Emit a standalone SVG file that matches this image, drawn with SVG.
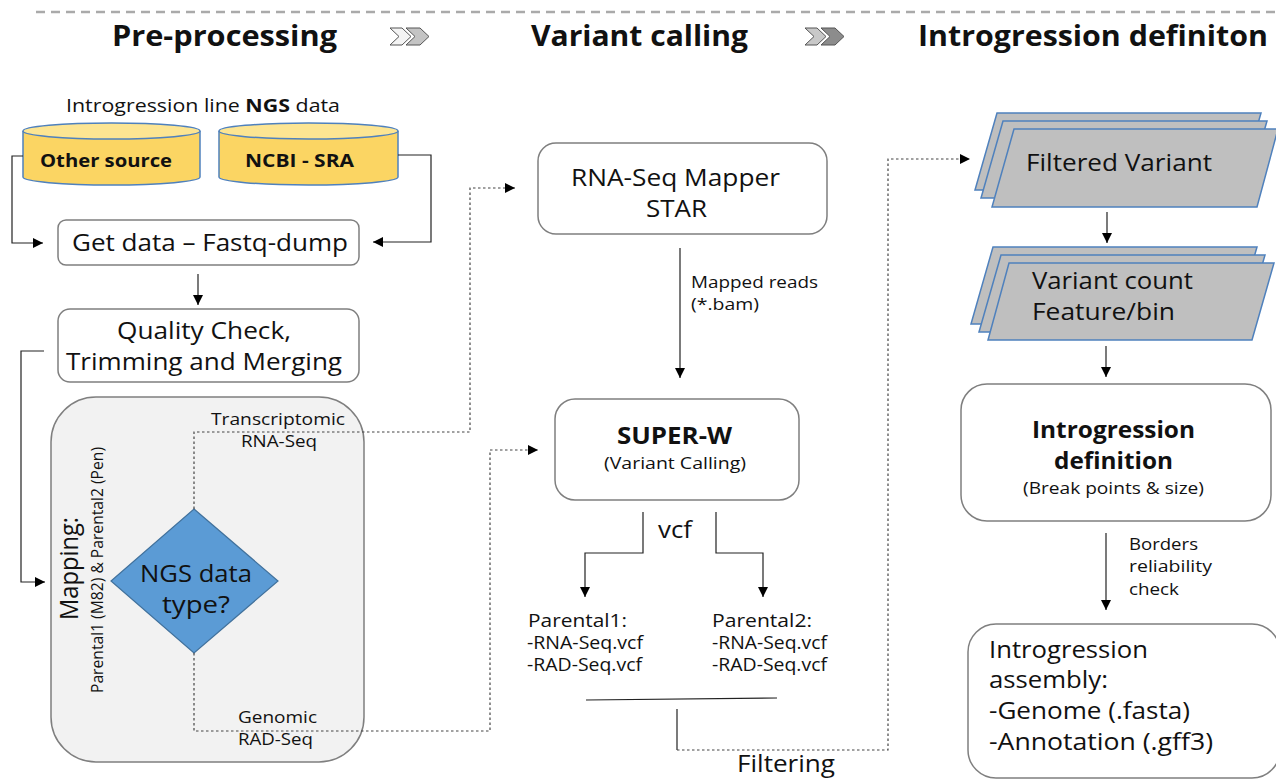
<svg xmlns="http://www.w3.org/2000/svg" width="1276" height="780" viewBox="0 0 1276 780">
  <defs>
    <marker id="arrow" viewBox="0 0 10 10" refX="10" refY="5" markerWidth="10" markerHeight="10" markerUnits="userSpaceOnUse" orient="auto">
      <path d="M0,0 L10,5 L0,10 z" fill="#000"/>
    </marker>
    <style>
      text { font-family: "Open Sans", "Liberation Sans", sans-serif; fill: #111; }
      .title { font-size: 28px; font-weight: bold; }
      .box { fill: #fff; stroke: #7f7f7f; stroke-width: 1.5; }
      .cyl { fill: #fbd563; stroke: #4f81bd; stroke-width: 1.5; }
      .cyltop { fill: #fde592; stroke: #4f81bd; stroke-width: 1.5; }
      .para { fill: #bfbfbf; stroke: #4f81bd; stroke-width: 1.5; }
      .line { fill: none; stroke: #222; stroke-width: 1.2; }
      .dash { fill: none; stroke: #444; stroke-width: 1.2; stroke-dasharray: 2.5 2.5; }
      .m { font-size: 24px; }
      .s { font-size: 17px; }
      .b { font-weight: bold; }
    </style>
  </defs>

  <!-- header -->
  <g id="header">
    <line x1="36" y1="12" x2="1276" y2="12" stroke="#aaa" stroke-width="2.5" stroke-dasharray="9 6"/>
    <text class="title" x="112" y="46" textLength="225" lengthAdjust="spacingAndGlyphs">Pre-processing</text>
    <text class="title" x="531" y="46" textLength="217" lengthAdjust="spacingAndGlyphs">Variant calling</text>
    <text class="title" x="918" y="46" textLength="350" lengthAdjust="spacingAndGlyphs">Introgression definiton</text>
    <g stroke="#555" stroke-width="1">
      <polygon points="390,28 402,28 411,36.5 402,45 390,45 399,36.5" fill="#f4f4f4"/>
      <polygon points="406,28 420,28 429,36.5 420,45 406,45 415,36.5" fill="#c4c4c4"/>
      <polygon points="805,28 817,28 826,36.5 817,45 805,45 814,36.5" fill="#c8c8c8"/>
      <polygon points="821,28 835,28 844,36.5 835,45 821,45 830,36.5" fill="#8c8c8c"/>
    </g>
  </g>

  <!-- pre-processing -->
  <g id="ngs-data-label">
    <text x="66" y="112" font-size="18" textLength="274" lengthAdjust="spacingAndGlyphs">Introgression line <tspan font-weight="bold">NGS</tspan> data</text>
  </g>
  <g id="other-source">
    <path class="cyl" d="M23,131 L23,177 A88.5,8 0 0 0 200,177 L200,131"/>
    <ellipse class="cyltop" cx="111.5" cy="131" rx="88.5" ry="8"/>
    <text class="b" x="40" y="167" font-size="18" textLength="132" lengthAdjust="spacingAndGlyphs">Other source</text>
  </g>
  <g id="ncbi-sra">
    <path class="cyl" d="M219,131 L219,177 A89.5,8 0 0 0 398,177 L398,131"/>
    <ellipse class="cyltop" cx="308.5" cy="131" rx="89.5" ry="8"/>
    <text class="b" x="245" y="167" font-size="18" textLength="109" lengthAdjust="spacingAndGlyphs">NCBI - SRA</text>
  </g>
  <g id="get-data">
    <rect class="box" x="58" y="220" width="301" height="45" rx="8"/>
    <text x="72" y="251" font-size="23" textLength="276" lengthAdjust="spacingAndGlyphs">Get data – Fastq-dump</text>
  </g>
  <g id="quality-check">
    <rect class="box" x="58" y="309" width="301" height="73" rx="12"/>
    <text x="117" y="339" font-size="23" textLength="174" lengthAdjust="spacingAndGlyphs">Quality Check,</text>
    <text x="66" y="370" font-size="23" textLength="276" lengthAdjust="spacingAndGlyphs">Trimming and Merging</text>
  </g>
  <g id="mapping">
    <rect x="51" y="397" width="313" height="365" rx="45" fill="#f2f2f2" stroke="#7f7f7f" stroke-width="1.5"/>
    <text transform="translate(78,620) rotate(-90)" font-size="26" textLength="103" lengthAdjust="spacingAndGlyphs">Mapping:</text>
    <text transform="translate(103,693) rotate(-90)" font-size="16" textLength="246" lengthAdjust="spacingAndGlyphs">Parental1 (M82)  &amp; Parental2 (Pen)</text>
    <text class="s" x="211" y="425" textLength="134" lengthAdjust="spacingAndGlyphs">Transcriptomic</text>
    <text class="s" x="241" y="447" textLength="76" lengthAdjust="spacingAndGlyphs">RNA-Seq</text>
    <text class="s" x="238" y="723" textLength="79" lengthAdjust="spacingAndGlyphs">Genomic</text>
    <text class="s" x="238" y="745" textLength="75" lengthAdjust="spacingAndGlyphs">RAD-Seq</text>
  </g>
  <g id="ngs-type">
    <polygon points="194,509 278,581 194,653 111,581" fill="#5b9bd5" stroke="#41719c" stroke-width="1.2"/>
    <text x="140" y="582" font-size="24" textLength="112" lengthAdjust="spacingAndGlyphs">NGS data</text>
    <text x="162" y="613" font-size="24" textLength="68" lengthAdjust="spacingAndGlyphs">type?</text>
  </g>

  <!-- variant calling -->
  <g id="star-mapper">
    <rect class="box" x="538" y="143" width="289" height="91" rx="18"/>
    <text class="m" x="571" y="186" textLength="209" lengthAdjust="spacingAndGlyphs">RNA-Seq Mapper</text>
    <text class="m" x="646" y="217" textLength="61" lengthAdjust="spacingAndGlyphs">STAR</text>
  </g>
  <g id="super-w">
    <rect class="box" x="555" y="399" width="244" height="101" rx="20"/>
    <text class="b" x="617" y="444" font-size="23" textLength="115" lengthAdjust="spacingAndGlyphs">SUPER-W</text>
    <text class="s" x="604" y="469" textLength="142" lengthAdjust="spacingAndGlyphs">(Variant Calling)</text>
  </g>
  <g id="parental1-vcf" font-size="18">
    <text x="528" y="627" textLength="99" lengthAdjust="spacingAndGlyphs">Parental1:</text>
    <text x="527" y="649" textLength="116" lengthAdjust="spacingAndGlyphs">-RNA-Seq.vcf</text>
    <text x="527" y="671" textLength="115" lengthAdjust="spacingAndGlyphs">-RAD-Seq.vcf</text>
  </g>
  <g id="parental2-vcf" font-size="18">
    <text x="712" y="627" textLength="100" lengthAdjust="spacingAndGlyphs">Parental2:</text>
    <text x="712" y="649" textLength="115" lengthAdjust="spacingAndGlyphs">-RNA-Seq.vcf</text>
    <text x="712" y="671" textLength="115" lengthAdjust="spacingAndGlyphs">-RAD-Seq.vcf</text>
  </g>

  <!-- introgression definition -->
  <g id="filtered-variant">
    <polygon class="para" points="997,113 1261,113 1239,190 975,190"/>
    <polygon class="para" points="1003,121 1267,121 1245,198 981,198"/>
    <polygon class="para" points="1014,129 1278,129 1257,207 992,207"/>
    <text class="m" x="1026" y="171" textLength="186" lengthAdjust="spacingAndGlyphs">Filtered Variant</text>
  </g>
  <g id="variant-count">
    <polygon class="para" points="993,247 1257,247 1235,324 971,324"/>
    <polygon class="para" points="1001,255 1265,255 1243,332 979,332"/>
    <polygon class="para" points="1009,263 1274,263 1252,340 988,340"/>
    <text class="m" x="1032" y="289" textLength="161" lengthAdjust="spacingAndGlyphs">Variant count</text>
    <text class="m" x="1032" y="320" textLength="143" lengthAdjust="spacingAndGlyphs">Feature/bin</text>
  </g>
  <g id="introgression-def">
    <rect class="box" x="961" y="384" width="310" height="137" rx="26"/>
    <text class="m b" x="1032" y="438" textLength="163" lengthAdjust="spacingAndGlyphs">Introgression</text>
    <text class="m b" x="1054" y="469" textLength="119" lengthAdjust="spacingAndGlyphs">definition</text>
    <text class="s" x="1023" y="494" textLength="181" lengthAdjust="spacingAndGlyphs">(Break points &amp; size)</text>
  </g>
  <g id="introgression-assembly">
    <rect class="box" x="968" y="624" width="312" height="154" rx="28"/>
    <text class="m" x="989" y="658" textLength="159" lengthAdjust="spacingAndGlyphs">Introgression</text>
    <text class="m" x="989" y="688" textLength="119" lengthAdjust="spacingAndGlyphs">assembly:</text>
    <text class="m" x="989" y="719" textLength="201" lengthAdjust="spacingAndGlyphs">-Genome (.fasta)</text>
    <text class="m" x="989" y="750" textLength="224" lengthAdjust="spacingAndGlyphs">-Annotation (.gff3)</text>
  </g>

  <!-- connectors, drawn last so the dashed branches show inside the mapping panel -->
  <g id="connectors">
    <polyline class="line" points="23,156 12,156 12,243 43,243" marker-end="url(#arrow)"/>
    <polyline class="line" points="398,155 431,155 431,242 373,242" marker-end="url(#arrow)"/>
    <line class="line" x1="198" y1="274" x2="198" y2="305" marker-end="url(#arrow)"/>
    <polyline class="line" points="44,351 21,351 21,582 45,582" marker-end="url(#arrow)"/>
    <polyline class="dash" points="194,509 194,432 470,432 470,188 515,188" marker-end="url(#arrow)"/>
    <polyline class="dash" points="194,653 194,731 490,731 490,450 538,450" marker-end="url(#arrow)"/>
    <line class="line" x1="680" y1="248" x2="680" y2="378" marker-end="url(#arrow)"/>
    <polyline class="line" points="643,512 643,553 585,553 585,597" marker-end="url(#arrow)"/>
    <polyline class="line" points="716,512 716,553 763,553 763,597" marker-end="url(#arrow)"/>
    <line class="line" x1="586" y1="700" x2="777" y2="698"/>
    <line class="line" x1="677" y1="709" x2="677" y2="750"/>
    <polyline class="dash" points="677,750 888,750 888,159 970,159" marker-end="url(#arrow)"/>
    <line class="line" x1="1107" y1="212" x2="1107" y2="243" marker-end="url(#arrow)"/>
    <line class="line" x1="1106" y1="346" x2="1106" y2="377" marker-end="url(#arrow)"/>
    <line class="line" x1="1106" y1="533" x2="1106" y2="610" marker-end="url(#arrow)"/>
    <text class="s" x="691" y="288" textLength="127" lengthAdjust="spacingAndGlyphs">Mapped reads</text>
    <text class="s" x="691" y="310" textLength="68" lengthAdjust="spacingAndGlyphs">(*.bam)</text>
    <text x="658" y="538" font-size="23" textLength="34" lengthAdjust="spacingAndGlyphs">vcf</text>
    <text x="737" y="772" font-size="23" textLength="98" lengthAdjust="spacingAndGlyphs">Filtering</text>
    <text class="s" x="1129" y="550" textLength="69" lengthAdjust="spacingAndGlyphs">Borders</text>
    <text class="s" x="1129" y="572" textLength="83" lengthAdjust="spacingAndGlyphs">reliability</text>
    <text class="s" x="1129" y="595" textLength="50" lengthAdjust="spacingAndGlyphs">check</text>
  </g>
</svg>
